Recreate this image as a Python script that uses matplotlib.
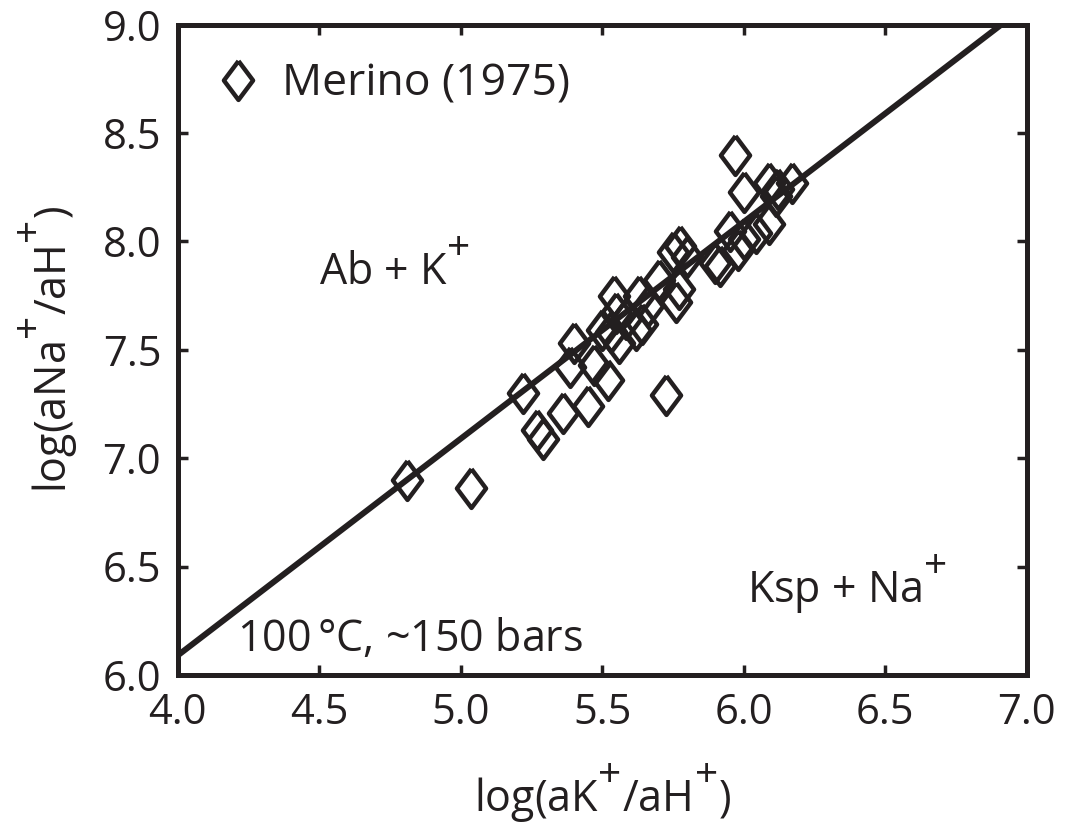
import numpy as np
import matplotlib
matplotlib.use('Agg')
import matplotlib._mathtext as mathtext_internals
from matplotlib import pyplot as plt

# Merino (1975) data
logK = [4.81, 5.035, 5.22, 5.27, 5.29, 5.36, 5.385, 5.40, 5.45, 5.47,
        5.52, 5.50, 5.53, 5.55, 5.56, 5.585, 5.54, 5.62, 5.63, 5.64,
        5.66, 5.70, 5.727, 5.75, 5.774, 5.77, 5.76, 5.80, 5.90, 5.915,
        5.95, 5.968, 5.98, 6.00, 6.00, 6.045, 6.09, 6.09, 6.115, 6.17,
        6.12]
logNa = [6.90, 6.86, 7.30, 7.13, 7.09, 7.21, 7.42, 7.53, 7.24, 7.43,
         7.36, 7.59, 7.58, 7.67, 7.53, 7.64, 7.75, 7.59, 7.75, 7.62,
         7.70, 7.82, 7.29, 7.95, 7.98, 7.78, 7.72, 7.93, 7.90, 7.885,
         8.05, 8.40, 7.96, 8.01, 8.23, 8.04, 8.08, 8.27, 8.21, 8.27,
         8.24]

# Ab/Ksp boundary
line_x = [4.0, 7.0]
line_y = [6.09, 9.09]

# big, high "+" superscripts like the original figure
mathtext_internals.SHRINK_FACTOR = 0.95
mathtext_internals.FontConstantsBase.sup1 = 1.0

plt.rcParams['font.family'] = ['Open Sans', 'DejaVu Sans']
plt.rcParams['mathtext.fontset'] = 'custom'
plt.rcParams['mathtext.rm'] = 'Open Sans'
plt.rcParams['mathtext.it'] = 'Open Sans'

ink = '#231f20'
diamond = [(0, 1), (0.75, 0), (0, -1), (-0.75, 0), (0, 1)]

fig = plt.figure(figsize=(10.65, 8.24), dpi=100)
ax = fig.add_axes([0.167, 0.181, 0.797, 0.789])

ax.plot(line_x, line_y, color=ink, lw=4.3, solid_capstyle='butt', zorder=2)
ax.plot(logK, logNa, linestyle='none', marker=diamond, markersize=28,
        markerfacecolor='none', markeredgecolor=ink, markeredgewidth=3.2,
        label='Merino (1975)', zorder=3)

ax.set_xlim(4.0, 7.0)
ax.set_ylim(6.0, 9.0)
ticks_x = np.arange(4.0, 7.01, 0.5)
ticks_y = np.arange(6.0, 9.01, 0.5)
ax.set_xticks(ticks_x)
ax.set_yticks(ticks_y)
ax.set_xticklabels(['%.1f' % v for v in ticks_x])
ax.set_yticklabels(['%.1f' % v for v in ticks_y])
ax.tick_params(direction='in', length=7, width=2.5, top=True, right=True,
               labelsize=30, pad=12, colors=ink)
for s in ax.spines.values():
    s.set_linewidth(3.6)
    s.set_color(ink)

ax.set_xlabel(r'log(aK$^{+}$/aH$^{+}$)', fontsize=31, color=ink, labelpad=20)
ax.set_ylabel(r'log(aNa$^{+}$/aH$^{+}$)', fontsize=31, color=ink, labelpad=16)

ax.text(4.50, 7.87, r'Ab + K$^{+}$', fontsize=31, va='center', color=ink)
ax.text(6.01, 6.42, r'Ksp + Na$^{+}$', fontsize=31, va='center', color=ink)
ax.text(4.21, 6.16, r'100$\,$°C, ~150 bars', fontsize=31, va='center', color=ink)

leg = ax.legend(loc='upper left', frameon=False, fontsize=32, markerscale=1.0,
                handlelength=1.0, handletextpad=0.5, borderaxespad=0.35,
                borderpad=0.5)
for t in leg.get_texts():
    t.set_color(ink)

fig.savefig('out.png', dpi=100)
